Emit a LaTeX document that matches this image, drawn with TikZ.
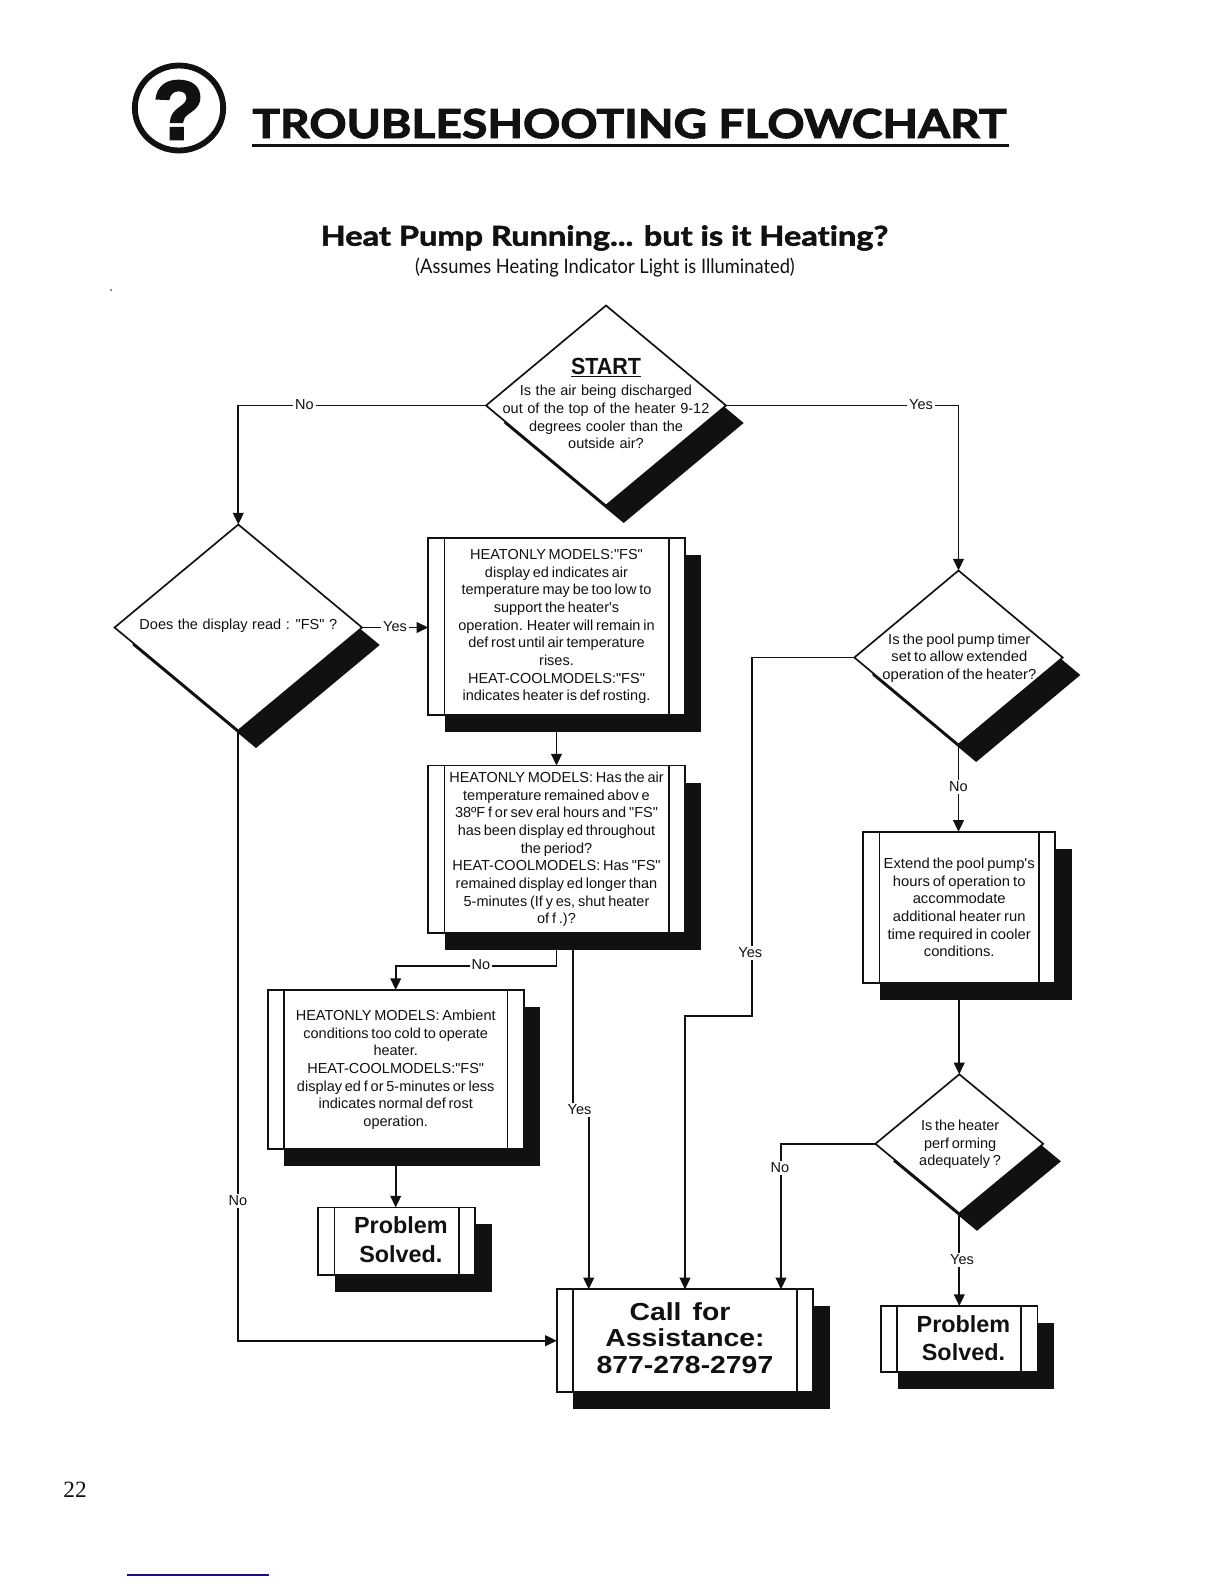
\documentclass[tikz,border=0pt]{standalone}
\usepackage{fontspec}
\setmainfont{Liberation Sans}
\newfontfamily\headfamily[FakeStretch=1.155,Ligatures=NoCommon,BoldFeatures={FakeBold=2.4}]{Lato}
\newfontfamily\headingfamily[FakeStretch=1.19,Ligatures=NoCommon,BoldFeatures={FakeBold=2}]{Lato}
\newfontfamily\subfamily[FakeStretch=0.915,Ligatures=NoCommon]{Lato}
\newfontfamily\markfamily[BoldFeatures={FakeBold=3}]{Liberation Sans}
\newfontfamily\bodyfamily[WordSpace=0.7]{Liberation Sans}
\newfontfamily\questfamily[FakeStretch=1.001,WordSpace=1.12]{Liberation Sans}
\newfontfamily\startfamily[FakeStretch=0.92]{Liberation Sans}
\newfontfamily\widefamily[FakeStretch=1.02,WordSpace=0.75]{Liberation Sans}
\newfontfamily\solvedfamily[FakeStretch=1.002]{Liberation Sans}
\newfontfamily\callfamily[FakeStretch=1.15,WordSpace=1.4]{Liberation Sans}
\newfontfamily\pagefamily{Liberation Serif}
\usetikzlibrary{arrows.meta,shapes.geometric,shadows,backgrounds}
\definecolor{inkblack}{HTML}{111111}
\definecolor{linkblue}{HTML}{10108A}
\tikzset{
  boxshadow/.style={drop shadow={shadow xshift=9.9pt,shadow yshift=-10.2pt,opacity=1,fill=inkblack}},
  procbox/.style={draw=inkblack,fill=white,line width=1.1pt,inner sep=0pt,outer sep=0pt,align=center,
    font=\bodyfamily\fontsize{8.7}{10.6}\selectfont,boxshadow,
    path picture={
      \draw[inkblack,line width=1.1pt] ([xshift=9.7pt]path picture bounding box.north west) -- ([xshift=9.7pt]path picture bounding box.south west);
      \draw[inkblack,line width=1.1pt] ([xshift=-9.7pt]path picture bounding box.north east) -- ([xshift=-9.7pt]path picture bounding box.south east);}},
  decide/.style={diamond,draw=inkblack,fill=white,line width=1pt,inner sep=0pt,outer sep=0pt,
    drop shadow={shadow xshift=10.6pt,shadow yshift=-10.5pt,opacity=1,fill=inkblack}},
  qtext/.style={align=center,inner sep=0pt,font=\questfamily\fontsize{8.7}{10.6}\selectfont},
  flowline/.style={draw=inkblack,line width=1.1pt},
  flowarrow/.style={flowline,-{Triangle[length=7pt,width=6.4pt]}},
  edgelabel/.style={fill=white,inner sep=1.2pt,font=\bodyfamily\fontsize{8.7}{10.6}\selectfont},
}
\begin{document}
\begin{tikzpicture}[x=0.6pt,y=-0.6pt,text=inkblack]
  \useasboundingbox (0,0) rectangle (1224,1584);
  % page heading
  \node[ellipse,draw=inkblack,line width=3.5pt,minimum width=53pt,minimum height=51pt,inner sep=0pt] (icon) at (179,108) {};
  \node[font=\markfamily\bfseries\fontsize{50}{50}\selectfont] (iconmark) at (178.5,110) {?};
  \node[font=\headfamily\bfseries\fontsize{24}{24}\selectfont,anchor=base west,inner sep=0pt] (title) at (252,138) {TROUBLESHOOTING FLOWCHART};
  \draw[inkblack,line width=1.3pt] (252,145.5) -- (1009,145.5);
  \node[font=\headingfamily\bfseries\fontsize{16.4}{17}\selectfont] (heading) at (604.5,238) {Heat Pump Running... but is it Heating?};
  \node[font=\subfamily\fontsize{12}{12}\selectfont] (subheading) at (605,267.5) {(Assumes Heating Indicator Light is Illuminated)};
  \fill[inkblack] (111,290) circle (0.8);
  % decisions
  \node[decide,minimum width=144pt,minimum height=120pt,
    label={[qtext,yshift=-7pt]center:{Is the air being discharged\\out of  the top of  the heater 9-12\\degrees cooler than the\\outside air?}},
    label={[qtext,yshift=22.6pt,font=\startfamily\bfseries\fontsize{14}{14}\selectfont]center:{\underline{START}}}] (start) at (606,405.5) {};
  \node[decide,minimum width=148.5pt,minimum height=123.6pt,
    label={[qtext,yshift=1pt]center:{Does the  display read : "FS" ?}}] (fsq) at (238.3,627.5) {};
  \node[decide,minimum width=125pt,minimum height=104.4pt,
    label={[qtext,xshift=0.5pt,yshift=-0.3pt,font=\widefamily\fontsize{8.7}{10.6}\selectfont]center:{Is the pool pump timer\\set to allow extended\\operation of the heater?}}] (pool) at (958.5,657.5) {};
  \node[decide,minimum width=100.7pt,minimum height=83.4pt,
    label={[qtext,xshift=0.5pt,yshift=-0.4pt,font=\bodyfamily\fontsize{8.7}{10.6}\selectfont]center:{Is the heater\\perf orming\\adequately ?}}] (heater) at (959.3,1143.8) {};
  % process boxes
  \node[procbox,minimum width=153.9pt,minimum height=106pt] (boxA) at (556.5,626.6) {HEATONLY MODELS:"FS"\\display ed indicates air\\temperature may  be too low to\\support the heater's\\operation. Heater will remain in\\def rost until air temperature\\rises.\\HEAT-COOLMODELS:"FS"\\indicates heater is def rosting.\rule[-1.2pt]{0pt}{1pt}};
  \node[procbox,minimum width=153.9pt,minimum height=100.5pt] (boxB) at (556.5,849.3) {HEATONLY MODELS: Has the air\\temperature remained abov e\\38ºF f or sev eral hours and  "FS"\\has been display ed throughout\\the period?\\HEAT-COOLMODELS: Has "FS"\\remained display ed longer than\\5-minutes (If y es, shut heater\\of f .)?};
  \node[procbox,minimum width=153.6pt,minimum height=95.6pt] (boxC) at (395.7,1069.6) {HEATONLY MODELS: Ambient\\conditions too cold to operate\\heater.\\HEAT-COOLMODELS:"FS"\\display ed f or 5-minutes or less\\indicates normal def rost\\operation.};
  \node[procbox,minimum width=94pt,minimum height=40.5pt,font=\solvedfamily\bfseries\fontsize{14}{17.2}\selectfont] (boxD) at (396.7,1241.2) {\hspace*{5pt}Problem\\\hspace*{5pt}Solved.\rule[-2pt]{0pt}{1pt}};
  \node[procbox,minimum width=153.8pt,minimum height=61.6pt,font=\callfamily\bfseries\fontsize{14.8}{16}\selectfont] (boxE) at (685,1340.7) {Call for\hspace*{6pt}\\Assistance:\\877-278-2797\rule[-3.5pt]{0pt}{3.5pt}};
  \node[procbox,minimum width=115pt,minimum height=90.9pt,font=\widefamily\fontsize{8.7}{10.6}\selectfont] (boxF) at (959.2,907.6) {Extend the pool pump's\\hours of  operation to\\accommodate\\additional heater run\\time required in cooler\\conditions.};
  \node[procbox,minimum width=93.9pt,minimum height=39.6pt,font=\solvedfamily\bfseries\fontsize{14}{16.6}\selectfont] (boxG) at (959.3,1339) {\hspace*{5pt}Problem\\\hspace*{5pt}Solved.\rule[-1pt]{0pt}{1pt}};
  % edge labels
  \node[edgelabel] (startno) at (304.4,405) {No};
  \node[edgelabel] (startyes) at (921,405) {Yes};
  \node[edgelabel] (fsyes) at (395,626.5) {Yes};
  \node[edgelabel] (fsno) at (238,1201) {No};
  \node[edgelabel] (boxbno) at (481,965) {No};
  \node[edgelabel] (boxbyes) at (579.5,1110) {Yes};
  \node[edgelabel] (poolyes) at (750.3,952.7) {Yes};
  \node[edgelabel] (poolno) at (958.3,787) {No};
  \node[edgelabel] (heaterno) at (780,1167.7) {No};
  \node[edgelabel] (heateryes) at (962,1260) {Yes};
  % free ends and bends
  \coordinate (outB) at (572.7,945);
  \coordinate (inEa) at (588.7,1289.3);
  \coordinate (inEc) at (781,1289.3);
  \coordinate (bendE) at (751.7,1016.3);
  \coordinate (bendC) at (395.7,966.4);
  % connectors sit below the nodes
  \begin{scope}[on background layer]
    \draw[flowarrow] (start.west) -| (fsq.north);
    \draw[flowarrow] (start.east) -| (pool.north);
    \draw[flowarrow] (fsq.east) -- (fsq.east -| boxA.west);
    \draw[flowarrow] (fsq.south) |- (boxE.west);
    \draw[flowarrow] (boxA.south) -- (boxB.north);
    \draw[flowarrow] (boxB.south) |- (bendC) -- (boxC.north);
    \draw[flowline] (outB) -- (outB |- boxbyes.north);
    \draw[flowarrow] (inEa |- boxbyes.south) -- (inEa);
    \draw[flowarrow] (boxC.south) -- (boxC.south |- boxD.north);
    \draw[flowarrow] (pool.south) -- (pool.south |- boxF.north);
    \draw[flowline] (pool.west) -| (bendE) -| (boxE.north);
    \draw[flowarrow] (boxE.north |- bendE) -- (boxE.north);
    \draw[flowarrow] (boxF.south) -- (boxF.south |- heater.north);
    \draw[flowarrow] (heater.west) -| (inEc);
    \draw[flowarrow] (heater.south) -- (heater.south |- boxG.north);
  \end{scope}
  % page furniture
  \node[font=\pagefamily\fontsize{14}{14}\selectfont] (pageno) at (75,1490) {22};
  \draw[linkblue,line width=0.9pt] (127,1575) -- (269,1575);
\end{tikzpicture}
\end{document}
